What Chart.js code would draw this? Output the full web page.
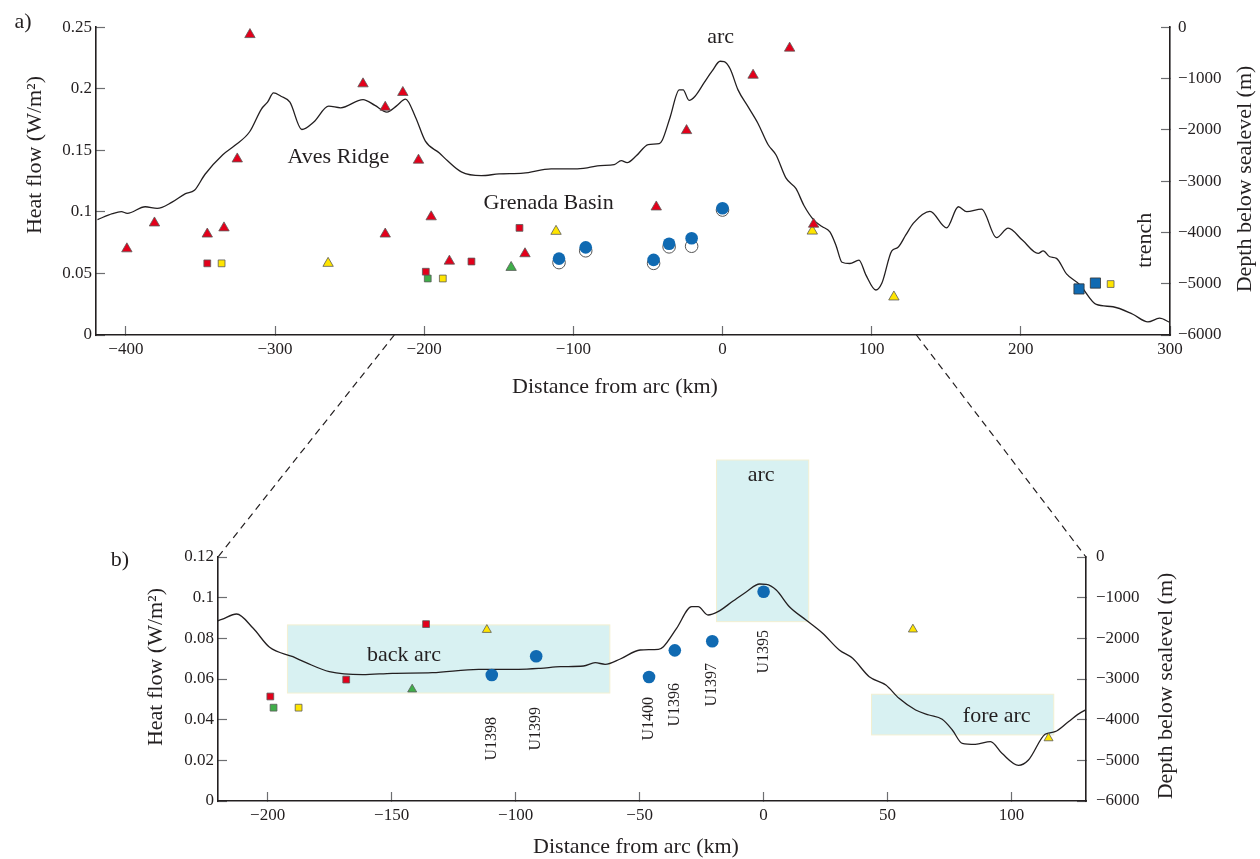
<!DOCTYPE html>
<html>
<head>
<meta charset="utf-8">
<title>Heat flow and bathymetry across the Lesser Antilles arc</title>
<script src="https://cdn.jsdelivr.net/npm/chart.js@4/dist/chart.umd.min.js"></script>
<style>
  html, body { margin: 0; padding: 0; background: #fff; }
  #wrap { position: relative; width: 1260px; height: 859px; }
  #wrap canvas { position: absolute; left: 0; }
  #chartA { top: 0; }
  #chartB { top: 420px; }
  #links { top: 0; pointer-events: none; }
</style>
</head>
<body>
<div id="wrap">
  <canvas id="chartA" width="1260" height="420"></canvas>
  <canvas id="chartB" width="1260" height="439"></canvas>
  <canvas id="links" width="1260" height="859"></canvas>
</div>
<script>
var SERIF = "'Liberation Serif', 'Times New Roman', serif";
var INK = '#231f20';

// tick values
var ticksKmA = [-400, -300, -200, -100, 0, 100, 200, 300];
var ticksKmB = [-200, -150, -100, -50, 0, 50, 100];
var ticksHfA = [0, 0.05, 0.1, 0.15, 0.2, 0.25];
var ticksHfB = [0, 0.02, 0.04, 0.06, 0.08, 0.1, 0.12];
var ticksDepth = [-6000, -5000, -4000, -3000, -2000, -1000, 0];

// bathymetric profile along the transect (km from arc, m)
var profileKm = [-419, -409, -403, -399, -387, -379, -369, -360, -354, -347, -335, -327, -317, -309, -305, -301,
  -296, -290, -282, -274, -264, -256, -241, -233, -225, -218.5, -212.5, -205.8, -199.2, -189.8, -184.5, -175.1,
  -161.7, -149.7, -133.6, -114.9, -98.8, -90, -81.9, -72.6, -67.9, -63.9, -57.8, -49.8, -42.4, -40.4, -35.1, -29,
  -26.4, -22.4, -18.4, -12.3, -6.9, -1.6, 1.1, 5.1, 10.4, 17.1, 23.8, 30.5, 35.9, 42.6, 49.3, 54.6, 61.3, 66.7,
  72, 76.1, 80.1, 85.4, 91.5, 96.1, 102.8, 106.8, 113.5, 117.5, 122.9, 128, 139.1, 150.3, 158.1, 163.7, 173.7,
  183.7, 191.5, 201, 211.6, 215, 219.4, 223.9, 230.6, 239.5, 250.6, 261.8, 275.1, 285.2, 293, 300];
var profileDepth = [-3750, -3635, -3596, -3628, -3500, -3532, -3410, -3244, -3180, -2871, -2487, -2308, -2038, -1590,
  -1462, -1282, -1346, -1462, -1994, -1846, -1539, -1571, -1410, -1525, -1654, -1533, -1402, -1754, -2221, -2452,
  -2599, -2820, -2894, -2860, -2845, -2762, -2762, -2738, -2697, -2680, -2599, -2639, -2508, -2287, -2270, -2205,
  -1754, -1222, -1222, -1426, -1345, -1082, -853, -664, -671, -811, -1222, -1549, -1876, -2287, -2491, -2943,
  -3148, -3475, -3762, -3885, -3991, -4254, -4582, -4606, -4541, -4827, -5123, -4992, -4360, -4296, -4050,
  -3819, -3590, -3910, -3500, -3596, -3545, -4102, -3917, -4150, -4410, -4359, -4475, -4506, -4808, -5019,
  -5404, -5449, -5596, -5744, -5673, -5756];

// heat flow measurements (W/m2)
var redTriKm = [-399.3, -380.8, -345.4, -334.2, -325.3, -316.8, -241, -226.1, -226.1, -214.3, -203.8, -195.3,
  -183.1, -132.4, -44.4, -24.1, 20.5, 45, 61.1];
var redTriHf = [0.070, 0.091, 0.082, 0.087, 0.143, 0.244, 0.204, 0.185, 0.082, 0.197, 0.142, 0.096,
  0.060, 0.066, 0.104, 0.166, 0.211, 0.233, 0.090];
var redSqKm = [-345.4, -198.9, -168.3, -136.1];
var redSqHf = [0.0582, 0.0514, 0.0597, 0.0870];
var yellowSqKm = [-335.8, -187.5, 260.2];
var yellowSqHf = [0.0582, 0.0459, 0.0414];
var yellowTriKm = [-264.4, -111.6, 60.2, 114.9];
var yellowTriHf = [0.0582, 0.0842, 0.0844, 0.0309];
var greenSqKm = [-197.6];
var greenSqHf = [0.0459];
var greenTriKm = [-141.7];
var greenTriHf = [0.0549];
var blueSqKm = [239, 250];
var blueSqHf = [0.0374, 0.0422];

// drill sites
var siteNames = ['U1398', 'U1399', 'U1400', 'U1396', 'U1397', 'U1395'];
var siteKm = [-109.6, -91.7, -46.2, -35.8, -20.7, 0];
var siteHf = [0.0620, 0.0712, 0.0610, 0.0741, 0.0786, 0.1029];
var siteHfOpen = [0.0588, 0.0684, 0.0582, 0.0716, 0.0721, 0.1015];
var siteLabelHf = [0.0413, 0.0462, 0.0512, 0.0580, 0.0679, 0.0841];

// tectonic zones in panel b
var zoneNames = ['back arc', 'arc', 'fore arc'];
var zoneKm = [[-192, -62], [-19, 18.2], [43.5, 117]];
var zoneHf = [[0.0531, 0.0866], [0.0882, 0.1677], [0.0325, 0.0525]];
var zoneLabelKm = [-145, -1, 94];
var zoneLabelHf = [0.0718, 0.1604, 0.0418];

// place names in panel a
var placeNames = ['Aves Ridge', 'Grenada Basin', 'arc'];
var placeKm = [-257.5, -116.6, -1.3];
var placeHf = [0.1445, 0.1071, 0.2417];

function pts(xs, ys) {
  return xs.map(function (x, i) { return { x: x, y: ys[i] }; });
}

function fmt(v) {
  return String(+(+v).toFixed(3)).replace('-', '\u2212');
}

function axis(pos, min, max, list, pad, size) {
  return {
    type: 'linear', position: pos, min: min, max: max,
    grid: { display: true, drawOnChartArea: false, drawTicks: true, tickLength: -9, tickColor: '#6d6e71', tickWidth: 1.2 },
    border: { display: true, color: INK, width: 1.6 },
    ticks: { padding: pad, color: INK, autoSkip: false, maxRotation: 0,
      font: { family: SERIF, size: 17 }, callback: fmt },
    afterBuildTicks: function (s) { s.ticks = list.map(function (v) { return { value: v }; }); },
    afterFit: function (s) { if (s.isHorizontal()) s.height = size; else s.width = size; }
  };
}

function markers(xs, ys, style, fill, r, edge) {
  return { data: pts(xs, ys), pointStyle: style, pointRadius: r, pointHoverRadius: r,
    backgroundColor: fill, borderColor: edge || '#5a5a5a', borderWidth: 0.8, order: 1 };
}

function profile() {
  return { data: pts(profileKm, profileDepth), yAxisID: 'depth', showLine: true, pointRadius: 0,
    borderColor: INK, borderWidth: 1.3, cubicInterpolationMode: 'monotone', order: 9 };
}

var RED = '#e3001b', YEL = '#ffe500', GRN = '#3fae49', BLUE = '#106ab2';

// draws text items, either at data positions (km/hf) or at pixel positions
var textMarks = {
  id: 'textMarks',
  afterDraw: function (chart, args, opts) {
    var ctx = chart.ctx;
    opts.items.forEach(function (it) {
      var x = it.km !== undefined ? chart.scales.x.getPixelForValue(it.km) : it.px;
      var y = it.hf !== undefined ? chart.scales.y.getPixelForValue(it.hf) : it.py;
      ctx.save();
      ctx.fillStyle = INK;
      ctx.font = (it.size || 22) + 'px ' + SERIF;
      ctx.textAlign = it.align || 'center';
      ctx.textBaseline = 'middle';
      ctx.translate(x, y);
      if (it.rot) ctx.rotate(it.rot * Math.PI / 180);
      ctx.fillText(it.text, 0, 0);
      ctx.restore();
    });
  }
};

var zoneBoxes = {
  id: 'zoneBoxes',
  beforeDatasetsDraw: function (chart, args, opts) {
    if (!opts.show) return;
    var ctx = chart.ctx, sx = chart.scales.x, sy = chart.scales.y;
    ctx.save();
    zoneKm.forEach(function (k, i) {
      var x0 = sx.getPixelForValue(k[0]), x1 = sx.getPixelForValue(k[1]);
      var y0 = sy.getPixelForValue(zoneHf[i][1]), y1 = sy.getPixelForValue(zoneHf[i][0]);
      ctx.fillStyle = '#d8f1f2';
      ctx.fillRect(x0, y0, x1 - x0, y1 - y0);
      ctx.strokeStyle = '#f3f0d2';
      ctx.lineWidth = 1;
      ctx.strokeRect(x0, y0, x1 - x0, y1 - y0);
    });
    ctx.restore();
  }
};

Chart.register(textMarks, zoneBoxes);

var itemsA = [
  { text: 'a)', px: 23, py: 22 },
  { text: 'Heat flow (W/m\u00b2)', px: 35, py: 155, rot: -90 },
  { text: 'Depth below sealevel (m)', px: 1245, py: 179, rot: -90 },
  { text: 'Distance from arc (km)', px: 615, py: 387 },
  { text: 'trench', km: 283.4, hf: 0.0769, rot: -90 }
];
placeNames.forEach(function (n, i) { itemsA.push({ text: n, km: placeKm[i], hf: placeHf[i] }); });

var chartA = new Chart(document.getElementById('chartA'), {
  type: 'scatter',
  data: {
    datasets: [
      profile(),
      { data: pts(siteKm, siteHfOpen), pointRadius: 6.3, backgroundColor: '#fff', borderColor: '#555', borderWidth: 1, order: 5 },
      markers(redTriKm, redTriHf, 'triangle', RED, 6),
      markers(redSqKm, redSqHf, 'rect', RED, 4.8),
      markers(yellowSqKm, yellowSqHf, 'rect', YEL, 4.8),
      markers(yellowTriKm, yellowTriHf, 'triangle', YEL, 6),
      markers(greenSqKm, greenSqHf, 'rect', GRN, 4.8),
      markers(greenTriKm, greenTriHf, 'triangle', GRN, 6),
      markers(blueSqKm, blueSqHf, 'rect', BLUE, 7.2, '#333'),
      { data: pts(siteKm, siteHf), pointRadius: 6.3, backgroundColor: BLUE, borderColor: BLUE, borderWidth: 0, order: 0 }
    ]
  },
  options: {
    responsive: false, animation: false, events: [],
    layout: { padding: { top: 24, left: 0, right: 0, bottom: 0 } },
    plugins: { legend: { display: false }, tooltip: { enabled: false },
      textMarks: { items: itemsA }, zoneBoxes: { show: false } },
    scales: {
      x: axis('bottom', -420, 300, ticksKmA, 13, 85),
      y: axis('left', 0, 0.25, ticksHfA, 13, 96),
      depth: axis('right', -6000, 0, ticksDepth, 17, 90)
    }
  }
});

var itemsB = [
  { text: 'b)', px: 120, py: 140 },
  { text: 'Heat flow (W/m\u00b2)', px: 156, py: 247, rot: -90 },
  { text: 'Depth below sealevel (m)', px: 1166, py: 266, rot: -90 },
  { text: 'Distance from arc (km)', px: 636, py: 427 }
];
zoneNames.forEach(function (n, i) { itemsB.push({ text: n, km: zoneLabelKm[i], hf: zoneLabelHf[i] }); });
siteNames.forEach(function (n, i) {
  itemsB.push({ text: n, km: siteKm[i], hf: siteLabelHf[i], rot: -90, align: 'right', size: 16 });
});

var chartB = new Chart(document.getElementById('chartB'), {
  type: 'scatter',
  data: {
    datasets: [
      profile(),
      markers(redSqKm, redSqHf, 'rect', RED, 4.8),
      markers(yellowSqKm, yellowSqHf, 'rect', YEL, 4.8),
      markers(yellowTriKm, yellowTriHf, 'triangle', YEL, 5.2),
      markers(greenSqKm, greenSqHf, 'rect', GRN, 4.8),
      markers(greenTriKm, greenTriHf, 'triangle', GRN, 5.2),
      { data: pts(siteKm, siteHf), pointRadius: 6.3, backgroundColor: BLUE, borderColor: BLUE, borderWidth: 0, order: 0 }
    ]
  },
  options: {
    responsive: false, animation: false, events: [],
    layout: { padding: { top: 137, left: 0, right: 0, bottom: 0 } },
    plugins: { legend: { display: false }, tooltip: { enabled: false },
      textMarks: { items: itemsB }, zoneBoxes: { show: true } },
    scales: {
      x: axis('bottom', -220, 130, ticksKmB, 13, 58),
      y: axis('left', 0, 0.12, ticksHfB, 13, 218),
      depth: axis('right', -6000, 0, ticksDepth, 19, 174)
    }
  }
});

// dashed lines linking the zoom window of panel a to panel b
(function () {
  var ctx = document.getElementById('links').getContext('2d');
  var offB = 420;
  var a = chartA.chartArea, b = chartB.chartArea, sx = chartA.scales.x;
  ctx.strokeStyle = INK;
  ctx.lineWidth = 1.2;
  ctx.setLineDash([7, 5]);
  [[chartB.scales.x.min, b.left], [chartB.scales.x.max, b.right]].forEach(function (p) {
    ctx.beginPath();
    ctx.moveTo(sx.getPixelForValue(p[0]), a.bottom);
    ctx.lineTo(p[1], b.top + offB);
    ctx.stroke();
  });
})();
</script>
</body>
</html>
